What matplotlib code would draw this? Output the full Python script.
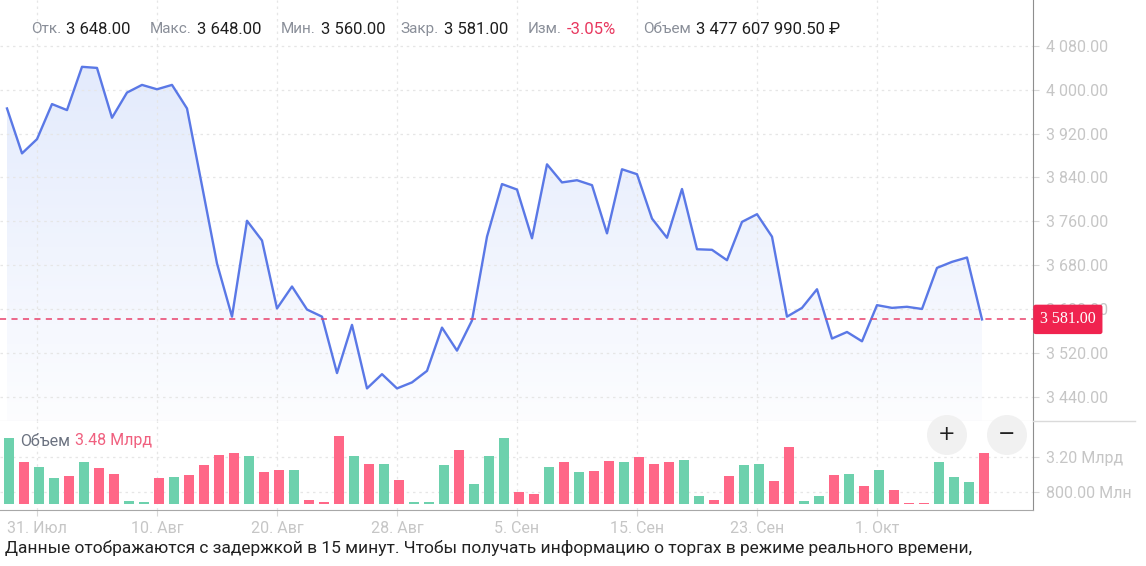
import numpy as np
import matplotlib.pyplot as plt
from matplotlib.patches import Circle
from matplotlib.lines import Line2D
from matplotlib.ticker import FixedLocator, FuncFormatter
import matplotlib.transforms as mtransforms

# daily close prices
price = [3966, 3884, 3910, 3974, 3963, 4042, 4040, 3949, 3995, 4009,
         4001, 4009, 3966, 3825, 3683, 3586, 3761, 3725, 3601, 3641,
         3599, 3586, 3483, 3571, 3455, 3481, 3455, 3466, 3487, 3566,
         3524, 3579, 3732, 3828, 3818, 3729, 3864, 3831, 3835, 3826,
         3738, 3855, 3846, 3765, 3730, 3819, 3709, 3708, 3689, 3759,
         3773, 3732, 3586, 3602, 3636, 3546, 3558, 3541, 3607, 3602,
         3604, 3600, 3675, 3686, 3694, 3581]
# daily volume, billions RUB
volume_bn = [4.51, 2.86, 2.51, 1.75, 1.91, 2.86, 2.44, 2.07, 0.17, 0.10,
             1.75, 1.82, 2.00, 2.69, 3.38, 3.48, 3.29, 2.17, 2.34, 2.34,
             0.26, 0.12, 4.67, 3.29, 2.76, 2.76, 1.66, 0.10, 0.10, 2.69,
             3.72, 1.38, 3.29, 4.51, 0.79, 0.69, 2.51, 2.86, 2.17, 2.26,
             2.94, 2.86, 3.20, 2.76, 2.86, 3.03, 0.51, 0.26, 1.91, 2.69,
             2.76, 1.57, 3.91, 0.17, 0.51, 2.00, 2.07, 1.22, 2.34, 0.94,
             0.05, 0.08, 2.86, 1.82, 1.48, 3.48]
# candle direction (1 = up day)
up = [1, 0, 1, 1, 0, 1, 0, 0, 1, 1, 0, 1, 0, 0, 0, 0, 1, 0, 0, 1,
      0, 0, 0, 1, 0, 1, 0, 1, 1, 1, 0, 1, 1, 1, 0, 0, 1, 0, 1, 0,
      0, 1, 0, 0, 0, 1, 1, 0, 0, 1, 1, 0, 0, 1, 1, 0, 1, 0, 1, 0,
      0, 0, 1, 1, 1, 0]
date_idx = [2, 10, 18, 26, 34, 42, 50, 58]
date_labels = ["31. Июл", "10. Авг", "20. Авг", "28. Авг",
               "5. Сен", "15. Сен", "23. Сен", "1. Окт"]
price_ticks = [3440, 3520, 3600, 3680, 3760, 3840, 3920, 4000, 4080]
vol_ticks_bn = [0.8, 3.2]
last_close = 3581.00

header = [("Отк.", "3 648.00"), ("Макс.", "3 648.00"), ("Мин.", "3 560.00"),
          ("Закр.", "3 581.00"), ("Изм.", "-3.05%"), ("Объем", "3 477 607 990.50 ₽")]

W, H = 1146, 566
plt.rcParams['font.family'] = ['Roboto', 'DejaVu Sans']

LINE = '#5a78e6'
GREEN = '#6dd1ad'
RED = '#ff6787'
GRID = '#e6e6e6'
TICKTXT = '#c6c6c6'

fig = plt.figure(figsize=(W / 100, H / 100), dpi=100)

def px_axes(x0, y0, x1, y1):
    return fig.add_axes([x0 / W, 1 - y1 / H, (x1 - x0) / W, (y1 - y0) / H])

x = np.arange(len(price))
xlo, xhi = -7 / 15, (1033 - 7) / 15

# price panel
ax = px_axes(0, 0, 1033, 421)
ax.set_xlim(xlo, xhi)
ax.set_ylim(4080 - 375 * 80 / 43.83, 4080 + 46 * 80 / 43.83)
ax.plot(x, price, color=LINE, lw=1.7, zorder=4)

poly = ax.fill_between(x, price, ax.get_ylim()[0], color='none', lw=0)
grad = np.linspace(0, 1, 256).reshape(-1, 1)
top_c = np.array([0.89, 0.92, 0.99])
bot_c = np.array([0.99, 0.992, 1.0])
img = top_c * (1 - grad[..., None]) + bot_c * grad[..., None]
ylo, yhi = ax.get_ylim()
im = ax.imshow(img, extent=[x[0], x[-1], ylo, max(price) + 5], aspect='auto',
               origin='upper', zorder=1)
im.set_clip_path(poly.get_paths()[0], transform=ax.transData)

ax.axhline(last_close, color='#e8406a', lw=1.1, dashes=(4, 3.5), zorder=5)

ax.yaxis.tick_right()
ax.yaxis.set_major_locator(FixedLocator(price_ticks))
ax.yaxis.set_major_formatter(FuncFormatter(lambda v, p: f"{v:,.2f}".replace(",", " ")))
ax.tick_params(axis='y', length=4, color='#d8d8d8', labelcolor=TICKTXT,
               labelsize=11.5, pad=5)
ax.xaxis.set_major_locator(FixedLocator(date_idx))
ax.tick_params(axis='x', length=0, labelbottom=False)
ax.grid(True, color=GRID, ls=(0, (2, 3)), lw=0.9)
for s in ['top', 'left']:
    ax.spines[s].set_visible(False)
ax.spines['right'].set_color('#8e8e8e')
ax.spines['bottom'].set_color('#dadada')

tr = mtransforms.blended_transform_factory(ax.transAxes, ax.transData)
ax.text(1.0 + 7 / 1033, last_close, f"{last_close:,.2f}".replace(",", " "),
        transform=tr, ha='left', va='center', color='white', fontsize=11.5,
        family='Liberation Serif', zorder=10, clip_on=False,
        bbox=dict(boxstyle='round,pad=0.42,rounding_size=0.15', fc='#f0234f', ec='none'))

# volume panel
axv = px_axes(0, 421, 1033, 510)
axv.set_xlim(xlo, xhi)
axv.set_ylim(-6.3 * 3.2 / 46.4, 82.7 * 3.2 / 46.4)
cols = [GREEN if u else RED for u in up]
axv.bar(x + 2 / 15, volume_bn, width=10 / 15, color=cols, zorder=3)
axv.yaxis.tick_right()
axv.yaxis.set_major_locator(FixedLocator(vol_ticks_bn))
axv.yaxis.set_major_formatter(FuncFormatter(
    lambda v, p: f"{v:.2f} Млрд" if v >= 1 else f"{v * 1000:.2f} Млн"))
axv.tick_params(axis='y', length=4, color='#d8d8d8', labelcolor=TICKTXT,
                labelsize=11.5, pad=5)
axv.xaxis.set_major_locator(FixedLocator(date_idx))
axv.set_xticklabels(date_labels)
axv.tick_params(axis='x', length=4, color='#d8d8d8', labelcolor=TICKTXT,
                labelsize=11.5, pad=4)
axv.grid(True, color=GRID, ls=(0, (2, 3)), lw=0.9)
for s in ['top', 'left']:
    axv.spines[s].set_visible(False)
axv.spines['right'].set_color('#8e8e8e')
axv.spines['bottom'].set_color('#a8a8a8')

# overlay in pixel coordinates for header, buttons and note
ov = fig.add_axes([0, 0, 1, 1])
ov.set_xlim(0, W)
ov.set_ylim(H, 0)
ov.axis('off')
ov.patch.set_alpha(0)

ov.add_line(Line2D([1033, 1135], [421, 421], color='#dadada', lw=1))

value_x = [66, 197, 321, 444, 567, 696]
for (lab, val), vx in zip(header, value_x):
    ov.text(vx - 5, 29, lab, color='#8a8f99', fontsize=11, va='center', ha='right')
    vc = '#e8385f' if lab == "Изм." else '#1e1e1e'
    ov.text(vx, 29, val, color=vc, fontsize=12, va='center', ha='left')

ov.text(20, 441, "Объем", color='#6b7280', fontsize=11.5, va='center', ha='left')
ov.text(75, 441, f"{volume_bn[-1]:.2f} Млрд", color='#f0607f', fontsize=11.5,
        va='center', ha='left')

for cx, sym in [(947, "+"), (1007, "−")]:
    ov.add_patch(Circle((cx, 435), 20, color='#f1f1f1', lw=0))
    ov.text(cx, 434, sym, color='#222222', fontsize=15, ha='center', va='center',
            family='DejaVu Sans')

ov.text(5, 548, "Данные отображаются с задержкой в 15 минут. Чтобы получать "
        "информацию о торгах в режиме реального времени,",
        color='#222222', fontsize=12.5, va='center', ha='left')

fig.savefig("out.png", dpi=100)
